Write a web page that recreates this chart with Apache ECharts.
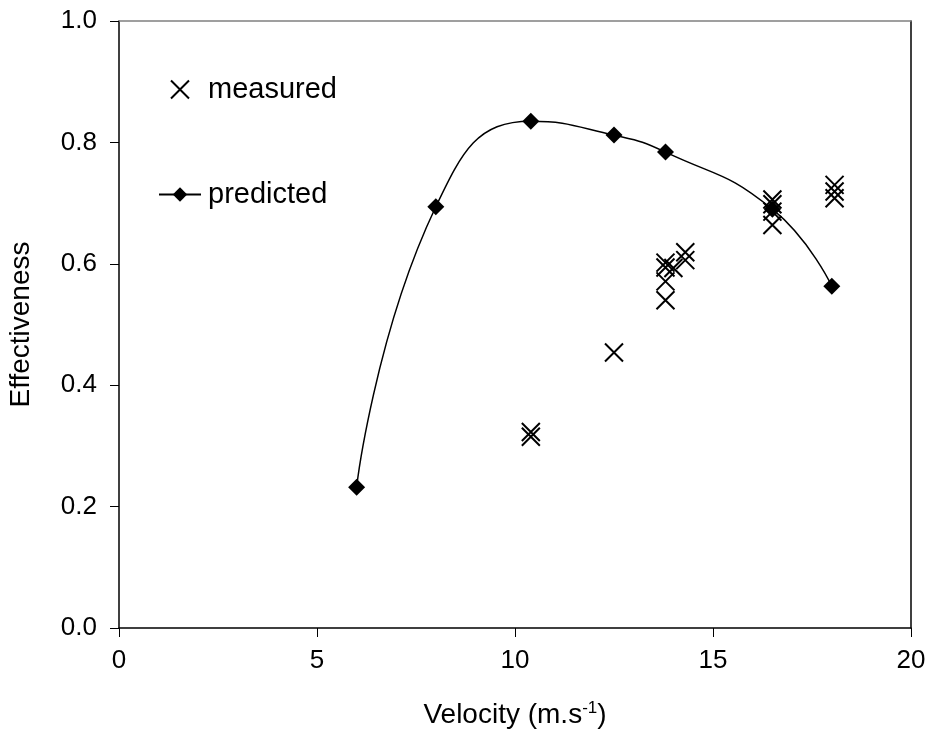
<!DOCTYPE html>
<html>
<head>
<meta charset="utf-8">
<script src="https://cdn.jsdelivr.net/npm/echarts@6/dist/echarts.min.js"></script>
<style>
  html, body { margin: 0; padding: 0; background: #fff; }
  #chart { width: 931px; height: 731px; }
</style>
</head>
<body>
<div id="chart"></div>
<script>
// predicted effectiveness (line with diamonds)
const predictedVelocity = [6, 8, 10.4, 12.5, 13.8, 16.5, 18];
const predictedEff = [0.232, 0.694, 0.835, 0.812, 0.784, 0.690, 0.563];

// measured effectiveness (crosses)
const measuredVelocity = [10.4, 10.4, 12.5, 13.8, 13.8, 13.8, 13.8, 14.0, 14.3, 14.3, 16.5, 16.5, 16.5, 16.5, 18.07, 18.07, 18.07];
const measuredEff = [0.323, 0.315, 0.454, 0.602, 0.594, 0.571, 0.540, 0.593, 0.619, 0.606, 0.706, 0.698, 0.686, 0.664, 0.730, 0.719, 0.708];

const xTicks = [0, 5, 10, 15, 20];
const yTicks = [0, 0.2, 0.4, 0.6, 0.8, 1.0];

const font = "Liberation Sans, Arial, sans-serif";
const cross = "path://M0 0L10 10M10 0L0 10";

const zip = (xs, ys) => xs.map((x, i) => [x, ys[i]]);

const chart = echarts.init(document.getElementById("chart"), null, { renderer: "canvas" });

chart.setOption({
    animation: false,
    backgroundColor: "#fff",
    textStyle: { fontFamily: font, color: "#000" },
    grid: { left: 119, right: 20, top: 21, bottom: 103, containLabel: false, outerBoundsMode: "none" },
    legend: {
        orient: "vertical",
        left: 153,
        top: 70,
        itemGap: 76,
        itemWidth: 42,
        itemHeight: 18,
        textStyle: { fontSize: 29, fontFamily: font, color: "#000", padding: [0, 0, 0, 2] },
        data: [
            { name: "measured" },
            { name: "predicted" },
        ],
    },
    xAxis: [
        {
            type: "value",
            min: xTicks[0],
            max: xTicks[xTicks.length - 1],
            interval: 5,
            name: "{n|Velocity (m.s}{s|-1}{n|)}",
            nameLocation: "middle",
            nameGap: 72,
            nameTextStyle: {
                rich: {
                    n: { fontSize: 28, fontFamily: font, color: "#000" },
                    s: { fontSize: 17, fontFamily: font, color: "#000", verticalAlign: "top", padding: [0, 0, 14, 0] },
                },
            },
            axisLine: { lineStyle: { color: "#000", width: 1.5 } },
            axisTick: { show: true, inside: false, length: 9, lineStyle: { color: "#000", width: 1 } },
            axisLabel: { fontSize: 26, color: "#000", margin: 20, fontFamily: font },
            splitLine: { show: false },
        },
        {
            type: "value",
            position: "top",
            min: 0,
            max: 20,
            axisLine: { show: true, onZero: false, lineStyle: { color: "#808080", width: 1.5 } },
            axisTick: { show: false },
            axisLabel: { show: false },
            splitLine: { show: false },
        },
    ],
    yAxis: [
        {
            type: "value",
            min: yTicks[0],
            max: yTicks[yTicks.length - 1],
            interval: 0.2,
            name: "Effectiveness",
            nameLocation: "middle",
            nameGap: 84,
            nameTextStyle: { fontSize: 28, fontFamily: font, color: "#000" },
            axisLine: { show: true, lineStyle: { color: "#000", width: 1.5 } },
            axisTick: { show: true, inside: false, length: 9, lineStyle: { color: "#000", width: 1 } },
            axisLabel: { fontSize: 26, color: "#000", margin: 22, fontFamily: font, formatter: (v) => v.toFixed(1) },
            splitLine: { show: false },
        },
        {
            type: "value",
            position: "right",
            min: 0,
            max: 1,
            axisLine: { show: true, onZero: false, lineStyle: { color: "#000", width: 1.5 } },
            axisTick: { show: false },
            axisLabel: { show: false },
            splitLine: { show: false },
        },
    ],
    series: [
        {
            name: "measured",
            type: "scatter",
            symbol: cross,
            symbolSize: 18,
            data: zip(measuredVelocity, measuredEff),
            itemStyle: { color: "rgba(0,0,0,0)", borderColor: "#000", borderWidth: 2, opacity: 1 },
            z: 3,
        },
        {
            name: "predicted",
            type: "line",
            smooth: 0.5,
            symbol: "diamond",
            symbolSize: 17,
            data: zip(predictedVelocity, predictedEff),
            lineStyle: { color: "#000", width: 1.5 },
            itemStyle: { color: "#000" },
            z: 4,
        },
    ],
});
</script>
</body>
</html>
